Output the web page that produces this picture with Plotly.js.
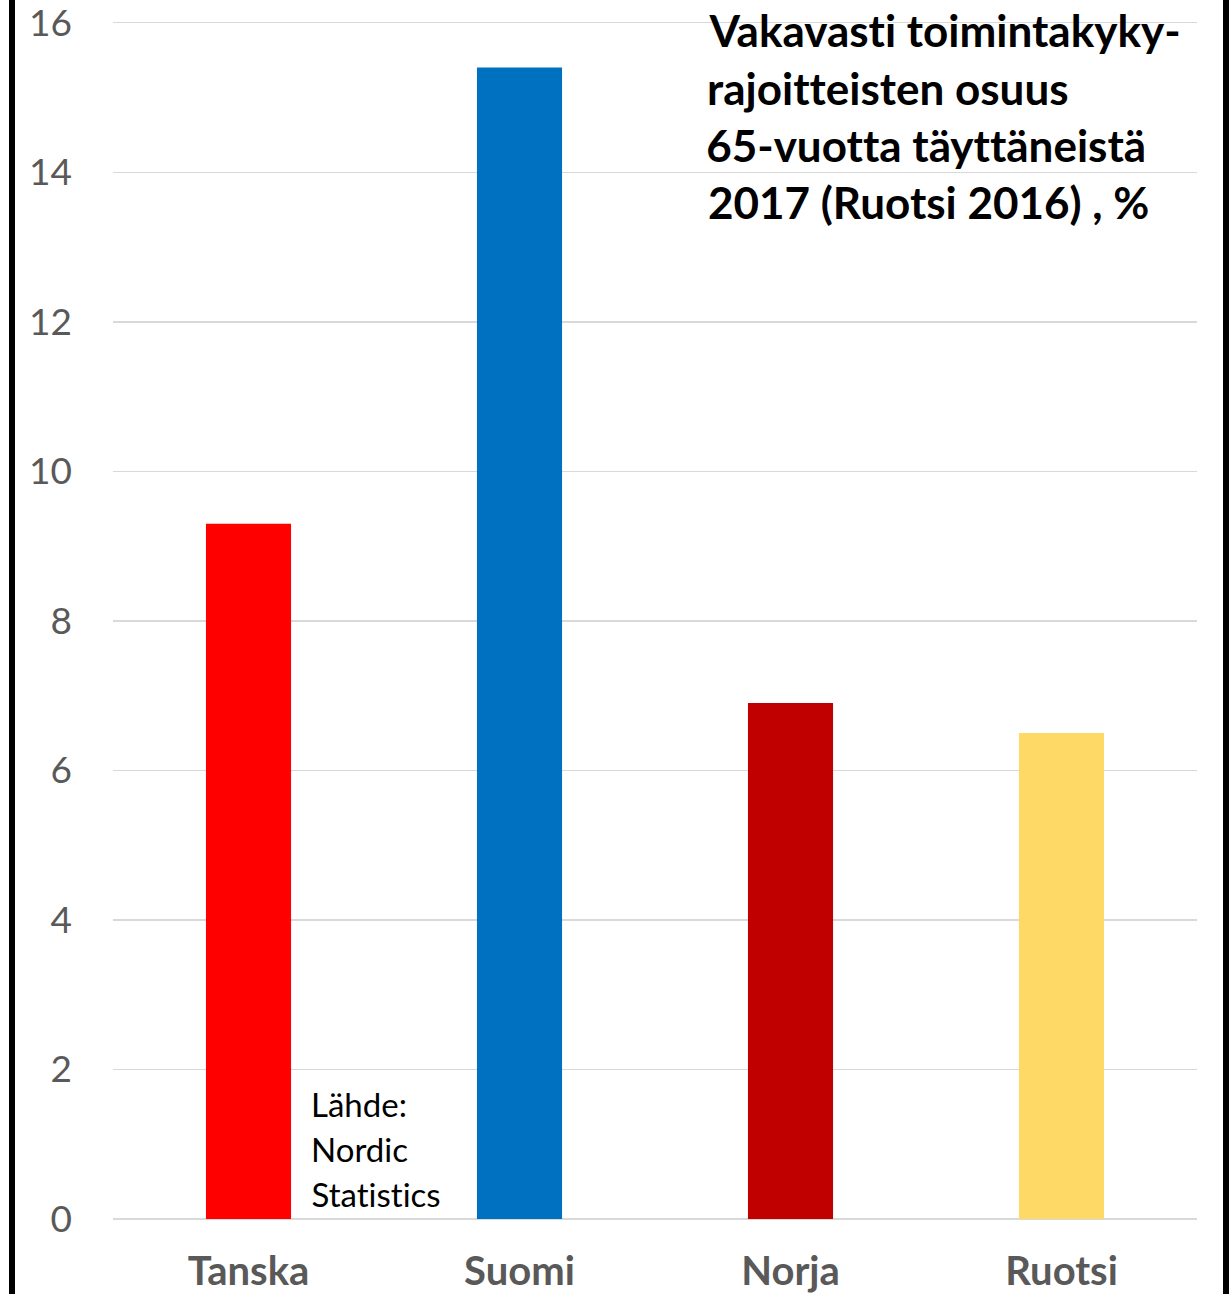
<!DOCTYPE html>
<html>
<head>
<meta charset="utf-8">
<script src="https://cdn.plot.ly/plotly-3.0.1.min.js"></script>
<style>
  html, body { margin: 0; padding: 0; background: #fff; }
  #chart { width: 1230px; height: 1294px; }
  #chart text { font-variant-ligatures: none; font-feature-settings: "liga" 0, "clig" 0; }
</style>
</head>
<body>
<div id="chart"></div>
<script>
// ---- data ----
const countries = ["Tanska", "Suomi", "Norja", "Ruotsi"];
const shares = [9.3, 15.4, 6.9, 6.5];
const barColors = ["#FF0000", "#0070C0", "#C00000", "#FFD966"];
const yTicks = [0, 2, 4, 6, 8, 10, 12, 14, 16];
const titleLines = [
  "Vakavasti toimintakyky-",
  "rajoitteisten osuus",
  "65-vuotta täyttäneistä",
  "2017 (Ruotsi 2016) , %"
];
const sourceLines = ["Lähde:", "Nordic", "Statistics"];

// ---- layout helpers (pixel -> paper) ----
const W = 1230, H = 1294;
const mL = 113, mR = 33, mT = 19, mB = 75;
const pw = W - mL - mR, ph = H - mT - mB;
const px = x => (x - mL) / pw;
const py = y => (H - mB - y) / ph;

const FONT = "Lato, 'Open Sans', sans-serif";

const annotations = [];
const titleY = [30, 88, 145, 202];
titleLines.forEach((t, i) => {
  annotations.push({
    text: t, xref: "paper", yref: "paper",
    x: px(706), y: py(titleY[i]), xanchor: "left", yanchor: "middle",
    showarrow: false,
    font: { family: FONT, size: 44, color: "#000000", weight: 700 }
  });
});
const srcY = [1104, 1149, 1194];
sourceLines.forEach((t, i) => {
  annotations.push({
    text: t, xref: "paper", yref: "paper",
    x: px(309), y: py(srcY[i]), xanchor: "left", yanchor: "middle",
    showarrow: false,
    font: { family: FONT, size: 33, color: "#000000" }
  });
});

const data = [{
  type: "bar",
  x: countries,
  y: shares,
  marker: { color: barColors },
  hoverinfo: "x+y"
}];

const layout = {
  width: W, height: H,
  margin: { l: mL, r: mR, t: mT, b: mB, pad: 0 },
  paper_bgcolor: "#ffffff",
  plot_bgcolor: "#ffffff",
  showlegend: false,
  bargap: 0.686,
  xaxis: {
    type: "category",
    showgrid: false,
    showline: false,
    zeroline: false,
    ticks: "",
    ticklabelstandoff: 25,
    ticklabeloverflow: "allow",
    tickfont: { family: FONT, size: 40, color: "#595959", weight: 700 }
  },
  yaxis: {
    range: [0, 16.05],
    tickvals: yTicks,
    ticktext: yTicks.map(String),
    showgrid: true,
    gridcolor: "#D9D9D9",
    gridwidth: 1.5,
    zeroline: true,
    zerolinecolor: "#D9D9D9",
    zerolinewidth: 1.5,
    showline: false,
    ticks: "",
    ticklabelstandoff: 40,
    ticklabeloverflow: "allow",
    tickfont: { family: FONT, size: 37, color: "#595959" }
  },
  annotations: annotations,
  shapes: [
    { type: "line", xref: "paper", yref: "paper",
      x0: px(12), x1: px(12), y0: py(-5), y1: py(H + 5),
      line: { color: "#000000", width: 6 } },
    { type: "line", xref: "paper", yref: "paper",
      x0: px(1226), x1: px(1226), y0: py(-5), y1: py(H + 5),
      line: { color: "#000000", width: 6 } }
  ]
};

Plotly.newPlot("chart", data, layout, { staticPlot: true, displayModeBar: false });
</script>
</body>
</html>
